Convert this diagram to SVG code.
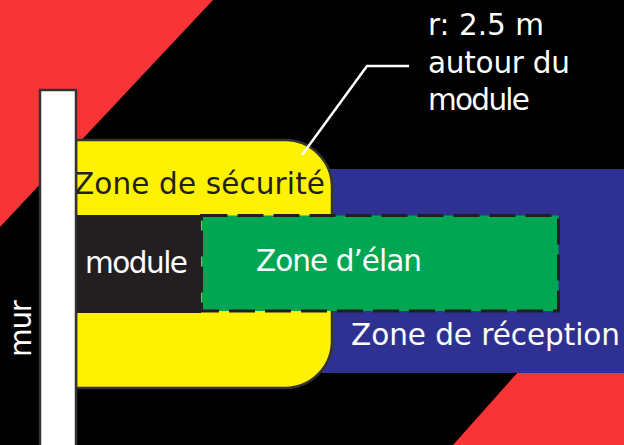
<svg xmlns="http://www.w3.org/2000/svg" width="624" height="445" viewBox="0 0 624 445">
<style>
.t{font-family:"DejaVu Sans","Liberation Sans",sans-serif;font-size:29.5px}
.w{fill:#ffffff}
.k{fill:#231f20}
.red{fill:#f93437}
</style>
<rect x="0" y="0" width="624" height="445" fill="#000000"/>
<g id="bg-red">
<polygon class="red" points="0,0 213,0 0,227"/>
<polygon class="red" points="453,445 624,445 624,253"/>
</g>
<g id="zone-reception">
<rect x="322" y="169" width="302" height="204" fill="#2e3192"/>
<text class="t w" x="351" y="345" textLength="269">Zone de réception</text>
</g>
<g id="zone-securite">
<path d="M76,140 H285 A47,47 0 0 1 332,187 V341 A47,47 0 0 1 285,388 H76 Z" fill="#fff200" stroke="#333333" stroke-width="2.5"/>
<text class="t k" x="74" y="194" textLength="251">Zone de sécurité</text>
</g>
<g id="mur">
<rect x="40" y="90" width="36" height="360" fill="#ffffff" stroke="#333333" stroke-width="2.5"/>
<text class="t w" transform="translate(31,357) rotate(-90)" x="0" y="0" textLength="57">mur</text>
</g>
<g id="module">
<rect x="77" y="215" width="124" height="98" fill="#231f20"/>
<text class="t w" x="85" y="273" textLength="103">module</text>
</g>
<g id="zone-elan">
<rect x="201.5" y="215.5" width="357" height="95.5" fill="#00a651" stroke="#231f20" stroke-width="3" stroke-dasharray="26 10"/>
<text class="t w" x="256" y="271" textLength="166">Zone d’élan</text>
</g>
<g id="label-rayon">
<text class="t w" x="428" y="35" textLength="116">r: 2.5 m</text>
<text class="t w" x="428" y="73" textLength="142">autour du</text>
<text class="t w" x="428" y="110" textLength="102">module</text>
</g>
<g id="connectors">
<polyline points="302,155 367,66 409,66" fill="none" stroke="#ffffff" stroke-width="2.5"/>
</g>
</svg>
